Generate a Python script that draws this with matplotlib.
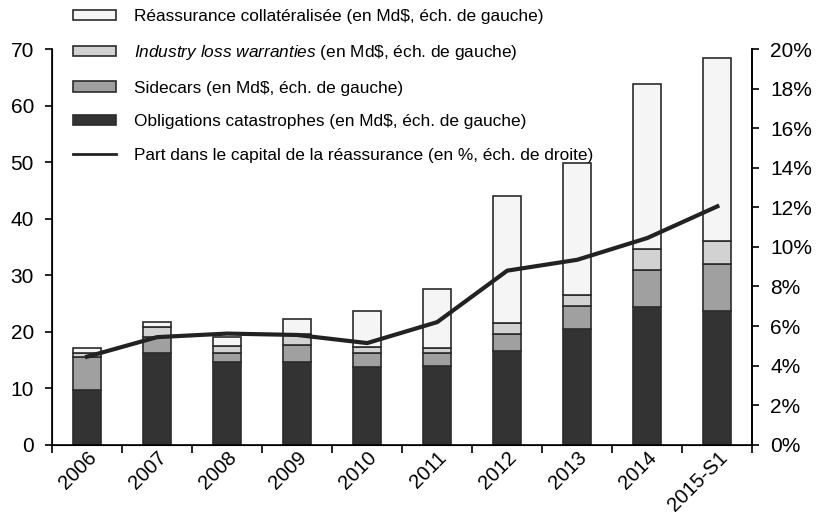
import numpy as np
import matplotlib
matplotlib.use("Agg")
import matplotlib.pyplot as plt
from matplotlib.patches import Patch
from matplotlib.lines import Line2D
from matplotlib.ticker import FixedLocator, PercentFormatter

plt.rcParams['font.family'] = ['Liberation Sans', 'DejaVu Sans']
plt.rcParams['mathtext.fontset'] = 'custom'
plt.rcParams['mathtext.rm'] = 'Liberation Sans'
plt.rcParams['mathtext.it'] = 'Liberation Sans:italic'

# data (Md$ for bars, % for the line)
years = ["2006", "2007", "2008", "2009", "2010", "2011", "2012", "2013", "2014", "2015-S1"]
cat_bonds = [9.7, 16.2, 14.6, 14.7, 13.8, 14.0, 16.6, 20.5, 24.4, 23.7]
sidecars = [5.8, 2.8, 1.7, 3.0, 2.5, 2.3, 3.0, 4.1, 6.5, 8.3]
ilw = [0.8, 1.9, 1.1, 1.9, 1.0, 0.9, 2.0, 1.9, 3.7, 4.1]
collat = [0.8, 0.9, 1.6, 2.7, 6.3, 10.4, 22.4, 23.3, 29.3, 32.3]
share = [4.45, 5.44, 5.62, 5.55, 5.14, 6.2, 8.8, 9.35, 10.45, 12.05]

x = np.arange(len(years))
w = 0.4
ec = "#2b2b2b"

fig = plt.figure(figsize=(8.25, 5.16), dpi=100)
ax = fig.add_axes([0.063, 0.138, 0.849, 0.767])

b1 = np.array(cat_bonds)
b2 = b1 + np.array(sidecars)
b3 = b2 + np.array(ilw)
ax.bar(x, cat_bonds, w, color="#333333", edgecolor=ec, linewidth=1.2, zorder=2)
ax.bar(x, sidecars, w, bottom=b1, color="#a0a0a0", edgecolor=ec, linewidth=1.2, zorder=2)
ax.bar(x, ilw, w, bottom=b2, color="#d2d2d2", edgecolor=ec, linewidth=1.2, zorder=2)
ax.bar(x, collat, w, bottom=b3, color="#f5f5f5", edgecolor=ec, linewidth=1.2, zorder=2)

ax.set_xlim(-0.5, len(years) - 0.5)
ax.set_ylim(0, 70)
ax.set_yticks(range(0, 71, 10))
ax.xaxis.set_major_locator(FixedLocator(np.arange(-0.5, len(years), 1)))
ax.set_xticklabels([])
ax.set_xticks(x, minor=True)
ax.set_xticklabels(years, minor=True, rotation=45, ha="right", rotation_mode="anchor")
ax.tick_params(axis="x", which="minor", length=0, pad=2, labelsize=14.5)
ax.tick_params(axis="x", which="major", length=6, width=1.2, direction="out")
ax.tick_params(axis="y", labelsize=15, length=5, width=1.2, pad=8)
ax.spines["top"].set_visible(False)
for s in ["left", "bottom", "right"]:
    ax.spines[s].set_linewidth(1.2)

ax2 = ax.twinx()
ax2.plot(x, share, color="#222222", linewidth=3, zorder=3)
ax2.set_ylim(0, 20)
ax2.set_yticks(range(0, 21, 2))
ax2.yaxis.set_major_formatter(PercentFormatter(decimals=0))
ax2.tick_params(axis="y", labelsize=15, length=5, width=1.2, pad=8)
ax2.spines["top"].set_visible(False)
ax2.spines["right"].set_linewidth(1.2)

handles = [
    Patch(facecolor="#f5f5f5", edgecolor=ec, linewidth=1.2),
    Patch(facecolor="#d2d2d2", edgecolor=ec, linewidth=1.2),
    Patch(facecolor="#a0a0a0", edgecolor=ec, linewidth=1.2),
    Patch(facecolor="#333333", edgecolor=ec, linewidth=1.2),
    Line2D([], [], color="#222222", linewidth=2),
]
labels = [
    "Réassurance collatéralisée (en Md$, éch. de gauche)",
    "$\\mathit{Industry\\ loss\\ warranties}$ (en Md\\$, éch. de gauche)",
    "Sidecars (en Md$, éch. de gauche)",
    "Obligations catastrophes (en Md$, éch. de gauche)",
    "Part dans le capital de la réassurance (en %, éch. de droite)",
]
leg = fig.legend(handles, labels, loc="upper left", bbox_to_anchor=(0.07, 1.012),
                 frameon=False, fontsize=12.4, handlelength=2.5, handleheight=0.55,
                 labelspacing=1.08, handletextpad=1.0)
leg.set_zorder(10)

fig.savefig("out.png", dpi=100)
